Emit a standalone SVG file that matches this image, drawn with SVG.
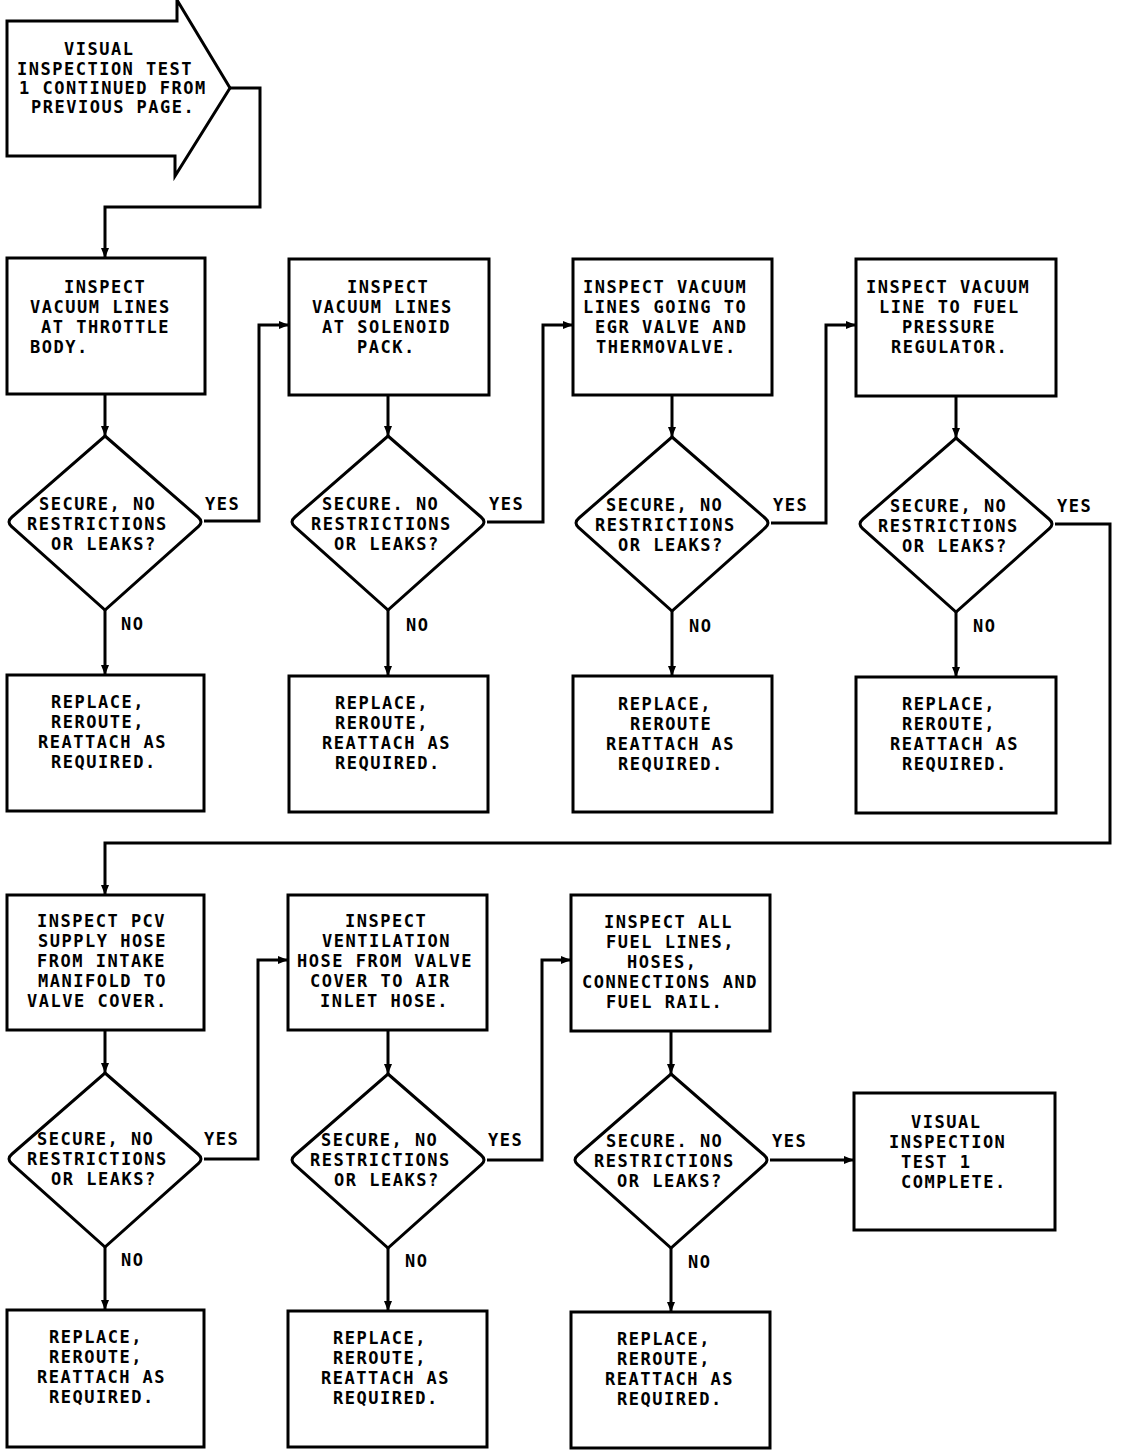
<svg xmlns="http://www.w3.org/2000/svg" width="1136" height="1452" viewBox="0 0 1136 1452">
<style>
.s{fill:#fff;stroke:#000;stroke-width:3}
.c{fill:none;stroke:#000;stroke-width:3}
text{font-family:"DejaVu Sans Mono","Liberation Mono",monospace;font-size:17px;letter-spacing:1.5px;font-weight:bold;fill:#000}
</style>
<defs>
<marker id="ah" markerUnits="userSpaceOnUse" markerWidth="10" markerHeight="8" refX="10" refY="4" orient="auto">
<path d="M0,0 L10,4 L0,8 Z" fill="#000"/>
</marker>
<path id="dia" d="M0,-86 L93,-5 Q99,0 93,5 L0,88 L-93,5 Q-99,0 -93,-5 Z"/>
</defs>
<rect width="1136" height="1452" fill="#fff"/>

<g id="connectors" class="c">
<path d="M230,88 H260 V207 H105 V258" marker-end="url(#ah)"/>
<path d="M105,394 V436" marker-end="url(#ah)"/>
<path d="M204,521 H259 V325 H289" marker-end="url(#ah)"/>
<path d="M105,610 V675" marker-end="url(#ah)"/>
<path d="M388,395 V436" marker-end="url(#ah)"/>
<path d="M487,522 H543 V325 H573" marker-end="url(#ah)"/>
<path d="M388,610 V676" marker-end="url(#ah)"/>
<path d="M672,395 V437" marker-end="url(#ah)"/>
<path d="M771,523 H826 V325 H856" marker-end="url(#ah)"/>
<path d="M672,611 V676" marker-end="url(#ah)"/>
<path d="M956,396 V438" marker-end="url(#ah)"/>
<path d="M1055,524 H1110 V843 H105 V895" marker-end="url(#ah)"/>
<path d="M956,612 V677" marker-end="url(#ah)"/>
<path d="M105,1030 V1073" marker-end="url(#ah)"/>
<path d="M204,1159 H258 V960 H288" marker-end="url(#ah)"/>
<path d="M105,1247 V1310" marker-end="url(#ah)"/>
<path d="M388,1030 V1074" marker-end="url(#ah)"/>
<path d="M487,1160 H542 V960 H571" marker-end="url(#ah)"/>
<path d="M388,1248 V1311" marker-end="url(#ah)"/>
<path d="M671,1031 V1074" marker-end="url(#ah)"/>
<path d="M770,1160 H854" marker-end="url(#ah)"/>
<path d="M671,1248 V1312" marker-end="url(#ah)"/>
</g>

<g id="labels">
<text x="205" y="510">YES</text>
<text x="489" y="510">YES</text>
<text x="773" y="511">YES</text>
<text x="1057" y="512">YES</text>
<text x="121" y="630">NO</text>
<text x="406" y="631">NO</text>
<text x="689" y="632">NO</text>
<text x="973" y="632">NO</text>
<text x="204" y="1145">YES</text>
<text x="488" y="1146">YES</text>
<text x="772" y="1147">YES</text>
<text x="121" y="1266">NO</text>
<text x="405" y="1267">NO</text>
<text x="688" y="1268">NO</text>
</g>

<g id="start">
<path class="s" d="M7,21 H177 V0 L230,88 L175,176 V156 H7 Z"/>
<text x="64" y="55">VISUAL</text>
<text x="17" y="75">INSPECTION TEST</text>
<text x="19" y="94">1 CONTINUED FROM</text>
<text x="31" y="113">PREVIOUS PAGE.</text>
</g>

<g id="box1">
<rect class="s" x="7" y="258" width="198" height="136"/>
<text x="64" y="293">INSPECT</text>
<text x="30" y="313">VACUUM LINES</text>
<text x="41" y="333">AT THROTTLE</text>
<text x="30" y="353">BODY.</text>
</g>
<g id="dec1">
<use href="#dia" x="105" y="522" class="s"/>
<text x="39" y="510">SECURE, NO</text>
<text x="27" y="530">RESTRICTIONS</text>
<text x="51" y="550">OR LEAKS?</text>
</g>
<g id="fix1">
<rect class="s" x="7" y="675" width="197" height="136"/>
<text x="51" y="708">REPLACE,</text>
<text x="51" y="728">REROUTE,</text>
<text x="38" y="748">REATTACH AS</text>
<text x="51" y="768">REQUIRED.</text>
</g>

<g id="box2">
<rect class="s" x="289" y="259" width="200" height="136"/>
<text x="347" y="293">INSPECT</text>
<text x="312" y="313">VACUUM LINES</text>
<text x="322" y="333">AT SOLENOID</text>
<text x="357" y="353">PACK.</text>
</g>
<g id="dec2">
<use href="#dia" x="388" y="522" class="s"/>
<text x="322" y="510">SECURE. NO</text>
<text x="311" y="530">RESTRICTIONS</text>
<text x="334" y="550">OR LEAKS?</text>
</g>
<g id="fix2">
<rect class="s" x="289" y="676" width="199" height="136"/>
<text x="335" y="709">REPLACE,</text>
<text x="335" y="729">REROUTE,</text>
<text x="322" y="749">REATTACH AS</text>
<text x="335" y="769">REQUIRED.</text>
</g>

<g id="box3">
<rect class="s" x="573" y="259" width="199" height="136"/>
<text x="583" y="293">INSPECT VACUUM</text>
<text x="583" y="313">LINES GOING TO</text>
<text x="595" y="333">EGR VALVE AND</text>
<text x="596" y="353">THERMOVALVE.</text>
</g>
<g id="dec3">
<use href="#dia" x="672" y="523" class="s"/>
<text x="606" y="511">SECURE, NO</text>
<text x="595" y="531">RESTRICTIONS</text>
<text x="618" y="551">OR LEAKS?</text>
</g>
<g id="fix3">
<rect class="s" x="573" y="676" width="199" height="136"/>
<text x="618" y="710">REPLACE,</text>
<text x="630" y="730">REROUTE</text>
<text x="606" y="750">REATTACH AS</text>
<text x="618" y="770">REQUIRED.</text>
</g>

<g id="box4">
<rect class="s" x="856" y="259" width="200" height="137"/>
<text x="866" y="293">INSPECT VACUUM</text>
<text x="879" y="313">LINE TO FUEL</text>
<text x="902" y="333">PRESSURE</text>
<text x="891" y="353">REGULATOR.</text>
</g>
<g id="dec4">
<use href="#dia" x="956" y="524" class="s"/>
<text x="890" y="512">SECURE, NO</text>
<text x="878" y="532">RESTRICTIONS</text>
<text x="902" y="552">OR LEAKS?</text>
</g>
<g id="fix4">
<rect class="s" x="856" y="677" width="200" height="136"/>
<text x="902" y="710">REPLACE,</text>
<text x="902" y="730">REROUTE,</text>
<text x="890" y="750">REATTACH AS</text>
<text x="902" y="770">REQUIRED.</text>
</g>

<g id="box5">
<rect class="s" x="7" y="895" width="197" height="135"/>
<text x="37" y="927">INSPECT PCV</text>
<text x="38" y="947">SUPPLY HOSE</text>
<text x="37" y="967">FROM INTAKE</text>
<text x="38" y="987">MANIFOLD TO</text>
<text x="27" y="1007">VALVE COVER.</text>
</g>
<g id="dec5">
<use href="#dia" x="105" y="1159" class="s"/>
<text x="37" y="1145">SECURE, NO</text>
<text x="27" y="1165">RESTRICTIONS</text>
<text x="51" y="1185">OR LEAKS?</text>
</g>
<g id="fix5">
<rect class="s" x="7" y="1310" width="197" height="137"/>
<text x="49" y="1343">REPLACE,</text>
<text x="49" y="1363">REROUTE,</text>
<text x="37" y="1383">REATTACH AS</text>
<text x="49" y="1403">REQUIRED.</text>
</g>

<g id="box6">
<rect class="s" x="288" y="895" width="199" height="135"/>
<text x="345" y="927">INSPECT</text>
<text x="322" y="947">VENTILATION</text>
<text x="297" y="967">HOSE FROM VALVE</text>
<text x="310" y="987">COVER TO AIR</text>
<text x="320" y="1007">INLET HOSE.</text>
</g>
<g id="dec6">
<use href="#dia" x="388" y="1160" class="s"/>
<text x="321" y="1146">SECURE, NO</text>
<text x="310" y="1166">RESTRICTIONS</text>
<text x="334" y="1186">OR LEAKS?</text>
</g>
<g id="fix6">
<rect class="s" x="288" y="1311" width="199" height="136"/>
<text x="333" y="1344">REPLACE,</text>
<text x="333" y="1364">REROUTE,</text>
<text x="321" y="1384">REATTACH AS</text>
<text x="333" y="1404">REQUIRED.</text>
</g>

<g id="box7">
<rect class="s" x="571" y="895" width="199" height="136"/>
<text x="604" y="928">INSPECT ALL</text>
<text x="606" y="948">FUEL LINES,</text>
<text x="627" y="968">HOSES,</text>
<text x="582" y="988">CONNECTIONS AND</text>
<text x="606" y="1008">FUEL RAIL.</text>
</g>
<g id="dec7">
<use href="#dia" x="671" y="1160" class="s"/>
<text x="606" y="1147">SECURE. NO</text>
<text x="594" y="1167">RESTRICTIONS</text>
<text x="617" y="1187">OR LEAKS?</text>
</g>
<g id="fix7">
<rect class="s" x="571" y="1312" width="199" height="136"/>
<text x="617" y="1345">REPLACE,</text>
<text x="617" y="1365">REROUTE,</text>
<text x="605" y="1385">REATTACH AS</text>
<text x="617" y="1405">REQUIRED.</text>
</g>

<g id="done">
<rect class="s" x="854" y="1093" width="201" height="137"/>
<text x="911" y="1128">VISUAL</text>
<text x="889" y="1148">INSPECTION</text>
<text x="901" y="1168">TEST 1</text>
<text x="901" y="1188">COMPLETE.</text>
</g>
</svg>
